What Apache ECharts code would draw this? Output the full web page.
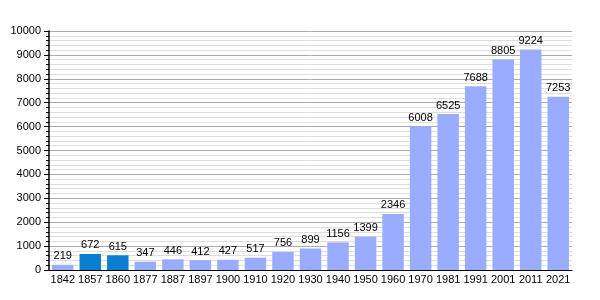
<!DOCTYPE html>
<html><head><meta charset="utf-8">
<script src="https://cdn.jsdelivr.net/npm/echarts@6/dist/echarts.min.js"></script>
<style>html,body{margin:0;padding:0;background:#fff}#c{width:600px;height:300px}</style>
</head><body><div id="c"></div>
<script>
const years = ['1842','1857','1860','1877','1887','1897','1900','1910','1920','1930','1940','1950','1960','1970','1981','1991','2001','2011','2021'];
const population = [219,672,615,347,446,412,427,517,756,899,1156,1399,2346,6008,6525,7688,8805,9224,7253];
const highlighted = ['1857','1860'];
const yTicks = {min:0, max:10000, interval:1000};

const chart = echarts.init(document.getElementById('c'), null, {renderer:'canvas'});
chart.setOption({
  animation:false,
  grid:{left:49, right:28, top:31, bottom:30},
  xAxis:{type:'category', data:years,
    axisLine:{lineStyle:{color:'#000', width:1}},
    axisTick:{show:false},
    axisLabel:{color:'#000', fontFamily:'Liberation Sans', fontSize:11, interval:0, margin:4}},
  yAxis:{type:'value', min:yTicks.min, max:yTicks.max, interval:yTicks.interval,
    axisLine:{show:true, lineStyle:{color:'#000', width:1.5}},
    axisTick:{show:true, length:5, inside:false, lineStyle:{color:'#000'}},
    minorTick:{show:true, splitNumber:5, length:3, lineStyle:{color:'#000'}},
    splitLine:{lineStyle:{color:'#aaa', width:1}},
    minorSplitLine:{show:true, lineStyle:{color:'#ddd', width:1}},
    axisLabel:{color:'#000', fontFamily:'Liberation Sans', fontSize:11, margin:8, formatter:v=>String(v)}},
  series:[{type:'bar', barCategoryGap:'22%',
    data: population.map((v,i)=>({value:v, itemStyle:{color: highlighted.includes(years[i]) ? '#0a7fd0' : '#9aacff'}})),
    label:{show:true, position:'top', color:'#000', fontFamily:'Liberation Sans', fontSize:11, distance:3}}]
});
</script></body></html>
